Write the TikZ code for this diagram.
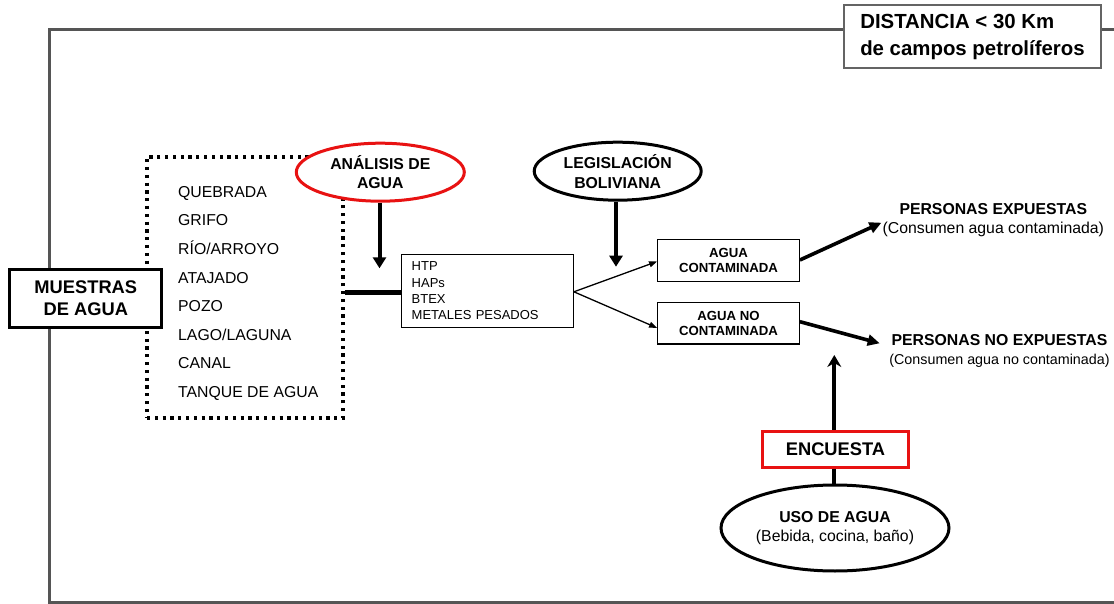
\documentclass[tikz,border=0pt]{standalone}
\usepackage{fontspec}
\setmainfont{Liberation Sans}
\usetikzlibrary{shapes.geometric,arrows.meta}
\definecolor{framegray}{RGB}{85,85,85}
\definecolor{boxgray}{RGB}{100,100,100}
\definecolor{myred}{RGB}{232,18,18}
\newcommand{\fsz}[2]{\fontsize{#1}{#2}\selectfont}
\tikzset{
  frameline/.style={draw=framegray,line width=3pt},
  distbox/.style={draw=boxgray,line width=1.6pt,fill=white,rectangle,minimum width=256.5pt,minimum height=63pt,align=left,inner sep=0pt,font=\bfseries\fsz{20.4}{27}},
  thickbox/.style={draw=black,line width=3pt,fill=white,rectangle,inner sep=0pt,align=center},
  thinbox/.style={draw=black,line width=1.2pt,fill=white,rectangle,inner sep=0pt,align=center},
  redbox/.style={draw=myred,line width=3pt,fill=white,rectangle,inner sep=0pt,align=center},
  blackell/.style={draw=black,line width=3pt,fill=white,ellipse,inner sep=0pt,align=center},
  redell/.style={draw=myred,line width=3pt,fill=white,ellipse,inner sep=0pt,align=center},
  dotbox/.style={draw=black,line width=3.2pt,dash pattern=on 3.2pt off 4.6pt,rectangle,inner sep=0pt},
  srcitem/.style={anchor=base west,inner sep=0pt,font=\fsz{15.8}{19}},
  plaintext/.style={inner sep=0pt,align=center,font=\fsz{15.8}{18.6}},
  downarrow/.style={line width=4pt,-{Triangle[length=11pt,width=13pt]}},
  bigarrow/.style={line width=3.6pt,-{Triangle[length=12pt,width=11pt]}},
  uparrow/.style={line width=4pt,-{Stealth[length=12pt,width=14pt,inset=4pt]}},
  thinarrow/.style={line width=1.3pt,-{Triangle[length=8pt,width=6pt]}},
  heavyline/.style={line width=5pt},
  linkline/.style={line width=4pt}
}
\begin{document}
\begin{tikzpicture}[x=1pt,y=-1pt]
\useasboundingbox (0,0) rectangle (1114,604);
\clip (0,0) rectangle (1114,604);
% outer frame
\draw[frameline] (1130,29.3) -- (49.2,29.3) -- (49.2,602.5) -- (1130,602.5);
% distance box
\node[distbox] (dist) at (972.5,36.7) {DISTANCIA < 30 Km\\de campos petrolíferos};
% dotted source box
\node[dotbox,minimum width=196pt,minimum height=261pt] (src) at (245,287.5) {};
\foreach \t [count=\i] in {QUEBRADA,GRIFO,RÍO/ARROYO,ATAJADO,POZO,LAGO/LAGUNA,CANAL,TANQUE DE AGUA}
  \node[srcitem] (s\i) at (178,{197.3+28.57*(\i-1)}) {\t};
% samples box
\node[thickbox,minimum width=152pt,minimum height=58.5pt,font=\bfseries\fsz{18.3}{21.7}] (mues) at (85.8,298.5) {MUESTRAS\\DE AGUA};
% analysis ellipse
\node[redell,minimum width=168pt,minimum height=58pt,font=\bfseries\fsz{15.8}{18.3}] (ana) at (380.3,172.2) {ANÁLISIS DE\\AGUA};
% legislation ellipse
\node[blackell,minimum width=167pt,minimum height=58pt,font=\bfseries\fsz{15.8}{20}] (leg) at (617.7,171.2) {LEGISLACIÓN\\BOLIVIANA};
% parameters box
\node[thinbox,minimum width=171.6pt,minimum height=73pt,align=left,text width=151.6pt,inner xsep=10pt,font=\fsz{13}{16.2}] (htp) at (487.5,290.8) {HTP\\HAPs\\BTEX\\METALES PESADOS};
% result boxes
\node[thinbox,minimum width=141.6pt,minimum height=42.4pt,font=\bfseries\fsz{13.2}{15}] (acont) at (728.5,260.5) {AGUA\\CONTAMINADA};
\node[thinbox,minimum width=141.6pt,minimum height=41.3pt,font=\bfseries\fsz{13.2}{15}] (ancont) at (728.5,323.4) {AGUA NO\\CONTAMINADA};
% people texts
\node[plaintext] (pexp) at (993.3,220.3) {\textbf{PERSONAS EXPUESTAS}\\(Consumen agua contaminada)};
\node[plaintext,font=\fsz{15.8}{18.8}] (pnoexp) at (999.5,351) {\textbf{PERSONAS NO EXPUESTAS}\\{\fsz{14.3}{18.8}(Consumen agua no contaminada)}};
% survey
\node[redbox,minimum width=146.7pt,minimum height=36pt,font=\bfseries\fsz{18.3}{21}] (enc) at (835.5,449) {ENCUESTA};
\node[blackell,minimum width=228pt,minimum height=86pt,font=\fsz{15.8}{18.8}] (uso) at (835,528) {\textbf{USO DE AGUA}\\(Bebida, cocina, baño)};
% free ends
\coordinate (anaend) at (379.5,268.3);
\coordinate (legend) at (616,266.7);
\coordinate (encend) at (834.3,355);
% connectors
\draw[downarrow] (anaend |- ana.south) -- (anaend);
\draw[downarrow] (legend |- leg.south) -- (legend);
\draw[heavyline] (src.east |- 0,292.3) -- (htp.west |- 0,292.3);
\draw[thinarrow] ([yshift=-1pt]htp.east) -- ([yshift=-1pt]acont.west);
\draw[thinarrow] ([yshift=-1pt]htp.east) -- ([yshift=-4.5pt]ancont.west);
\draw[bigarrow] ([yshift=0.5pt]acont.east) -- ([xshift=-1pt,yshift=-2.4pt]pexp.west);
\draw[bigarrow] ([yshift=1.7pt]ancont.east) -- ([xshift=-9.5pt,yshift=7.7pt]pnoexp.west);
\draw[uparrow] (encend |- enc.north) -- (encend);
\draw[linkline] (encend |- enc.south) -- (encend |- uso.north);
\end{tikzpicture}
\end{document}
